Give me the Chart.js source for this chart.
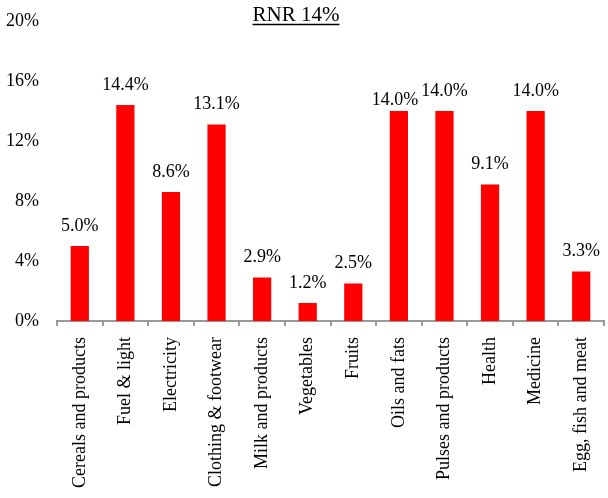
<!DOCTYPE html>
<html>
<head>
<meta charset="utf-8">
<script src="https://cdn.jsdelivr.net/npm/chart.js@4/dist/chart.umd.min.js"></script>
<style>
html,body{margin:0;padding:0;background:#fff;}
#wrap{width:608px;height:498px;position:relative;}
</style>
</head>
<body>
<div id="wrap"><canvas id="c" width="608" height="498"></canvas></div>
<script>
const categories = ["Cereals and products","Fuel & light","Electricity","Clothing & footwear","Milk and products","Vegetables","Fruits","Oils and fats","Pulses and products","Health","Medicine","Egg, fish and meat"];
const values = [5.0, 14.4, 8.6, 13.1, 2.9, 1.2, 2.5, 14.0, 14.0, 9.1, 14.0, 3.3];
const yTicks = [0, 4, 8, 12, 16, 20];
const titleText = "RNR 14%";

const FONT = "'Liberation Serif', 'Times New Roman', serif";

const labelPlugin = {
  id: 'barLabels',
  afterDatasetsDraw(chart) {
    const ctx = chart.ctx;
    const meta = chart.getDatasetMeta(0);
    ctx.save();
    ctx.font = "18px " + FONT;
    ctx.fillStyle = "#000";
    ctx.textAlign = "center";
    ctx.textBaseline = "middle";
    meta.data.forEach((bar, i) => {
      // the Oils and fats label sits a little lower and left to avoid its neighbour
      const nudge = (i === 7) ? { dx: -4, dy: 9 } : { dx: 0, dy: 0 };
      ctx.fillText(values[i].toFixed(1) + "%", bar.x + nudge.dx, bar.y - 20 + nudge.dy);
    });
    ctx.restore();
  }
};

const titlePlugin = {
  id: 'ulTitle',
  afterDraw(chart) {
    const ctx = chart.ctx;
    ctx.save();
    ctx.font = "21px " + FONT;
    ctx.fillStyle = "#000";
    ctx.textAlign = "center";
    ctx.textBaseline = "alphabetic";
    const x = 296;
    const y = 21;
    ctx.fillText(titleText, x, y);
    const w = ctx.measureText(titleText).width;
    ctx.strokeStyle = "#000";
    ctx.lineWidth = 1.5;
    ctx.beginPath();
    ctx.moveTo(x - w / 2, y + 3.5);
    ctx.lineTo(x + w / 2, y + 3.5);
    ctx.stroke();
    ctx.restore();
  }
};

new Chart(document.getElementById('c'), {
  type: 'bar',
  data: {
    labels: categories,
    datasets: [{
      data: values,
      backgroundColor: '#ff0000',
      borderWidth: 0,
      barPercentage: 0.4,
      categoryPercentage: 1.0
    }]
  },
  options: {
    responsive: false,
    animation: false,
    devicePixelRatio: 1,
    layout: { padding: { top: 21, right: 4, left: 0, bottom: 6 } },
    plugins: { legend: { display: false }, tooltip: { enabled: false }, title: { display: false } },
    scales: {
      x: {
        offset: true,
        afterFit(scale) { scale.paddingLeft = 0; scale.paddingRight = 0; scale.height = 171; },
        grid: { display: true, drawOnChartArea: false, drawTicks: true, tickLength: 5, color: '#999', lineWidth: 2, offset: true },
        border: { display: true, color: '#999', width: 2 },
        ticks: { color: '#000', font: { family: FONT, size: 18 }, maxRotation: 90, minRotation: 90, autoSkip: false, padding: 11 }
      },
      y: {
        min: 0, max: 20,
        afterFit(scale) { scale.width = 57; scale.paddingTop = 0; scale.paddingBottom = 0; },
        afterBuildTicks(axis) { axis.ticks = yTicks.map(v => ({ value: v })); },
        grid: { display: false, drawTicks: false },
        border: { display: false },
        ticks: { color: '#000', font: { family: FONT, size: 18 }, padding: 18, callback: v => v + '%' }
      }
    }
  },
  plugins: [labelPlugin, titlePlugin]
});
</script>
</body>
</html>
